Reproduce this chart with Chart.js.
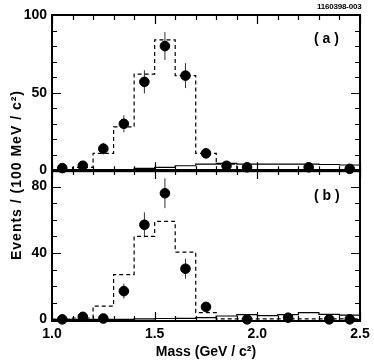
<!DOCTYPE html>
<html>
<head>
<meta charset="utf-8">
<script src="https://cdn.jsdelivr.net/npm/chart.js@4.4.0/dist/chart.umd.min.js"></script>
<style>
body { margin: 0; background: #fff; width: 374px; height: 363px; position: relative; overflow: hidden; font-family: "Liberation Sans", Arial, sans-serif; }
canvas { position: absolute; left: 0; }
#top { top: 0; }
#bot { top: 160px; }
.lbl { position: absolute; font-weight: bold; color: #000; white-space: nowrap; }
#ytitle { left: -84px; top: 167px; width: 200px; text-align: center; font-size: 14px; letter-spacing: 1px; transform: rotate(-90deg); }
</style>
</head>
<body>
<canvas id="top" width="374" height="177"></canvas>
<canvas id="bot" width="374" height="203"></canvas>
<div class="lbl" style="left:317px;top:2px;font-size:8px;letter-spacing:-0.2px">1160398-003</div>
<div class="lbl" style="left:314px;top:30px;font-size:14px">( a )</div>
<div class="lbl" style="left:314px;top:187px;font-size:14px">( b )</div>
<div class="lbl" id="ytitle">Events / (100 MeV / c²)</div>
<script>
// bin edges in GeV/c^2
const binEdges = [1.0, 1.1, 1.2, 1.3, 1.4, 1.5, 1.6, 1.7, 1.8, 1.9, 2.0, 2.1, 2.2, 2.3, 2.4, 2.5];
const xTicks = [1.0, 1.5, 2.0, 2.5];

// panel (a)
const mcA = [0, 2, 11, 28, 62, 84, 61, 11, 4, 0.5, 0.5, 0.5, 0.5, 0.5, 0.5];
const bkgA = [0, 0, 0, 0.5, 1.3, 2, 3, 4, 4.5, 4, 4, 4, 4, 3.8, 3.5];
const massA = [1.05, 1.15, 1.25, 1.35, 1.45, 1.55, 1.65, 1.75, 1.85, 1.95, 2.25, 2.45];
const eventsA = [1.5, 3, 14, 30, 57, 80, 61, 11, 3, 2, 2, 1];
const errA = [1, 1.7, 3.7, 5.5, 7.5, 9, 8, 3.3, 1.7, 1.4, 1.4, 1];
const yTicksA = [0, 50, 100];

// panel (b)
const mcB = [0, 0.8, 8, 27, 50, 59, 40.5, 4, 0.3, 0.3, 0.3, 0.3, 0.3, 0.3, 0.3];
const bkgB = [0, 0, 0, 0, 0.3, 0.5, 0.6, 1, 2, 2.8, 2.2, 2.8, 4, 3, 2.6];
const massB = [1.05, 1.15, 1.25, 1.35, 1.45, 1.55, 1.65, 1.75, 1.95, 2.15, 2.35, 2.45];
const eventsB = [0, 1.5, 0.5, 17, 57, 76, 30.5, 7.5, 0, 1, 0, 0];
const errB = [0.5, 1.5, 1, 4.5, 7.5, 9, 6, 3, 0.5, 1, 0.5, 0.5];
const yTicksB = [0, 40, 80];

const tickFont = { family: "Liberation Sans", size: 14, weight: "bold" };

function histPoints(vals) {
    const pts = vals.map((v, i) => ({ x: binEdges[i], y: v }));
    pts.push({ x: binEdges[binEdges.length - 1], y: vals[vals.length - 1] });
    return pts;
}

// frame with inward ticks on all four sides
const framePlugin = {
    id: "frame",
    afterDatasetsDraw(chart, args, opts) {
        const { ctx, chartArea: a, scales: { x, y } } = chart;
        ctx.save();
        ctx.strokeStyle = "#000";
        ctx.lineWidth = 1.2;
        ctx.beginPath();
        for (let k = 0; k <= 15; k++) {
            const v = 1.0 + k * 0.1;
            const px = Math.round(x.getPixelForValue(v)) + 0.5;
            const len = k % 5 === 0 ? 9 : 5;
            ctx.moveTo(px, a.bottom); ctx.lineTo(px, a.bottom - len);
            ctx.moveTo(px, a.top); ctx.lineTo(px, a.top + len);
        }
        for (let v = 0; v <= y.max; v += 10) {
            const py = Math.round(y.getPixelForValue(v)) + 0.5;
            const len = v % opts.major === 0 ? 9 : 5;
            ctx.moveTo(a.left, py); ctx.lineTo(a.left + len, py);
            ctx.moveTo(a.right, py); ctx.lineTo(a.right - len, py);
        }
        ctx.stroke();
        ctx.lineWidth = 2;
        ctx.strokeRect(a.left, a.top, a.right - a.left, a.bottom - a.top);
        ctx.restore();
    }
};

// vertical error bars for the data points
const errPlugin = {
    id: "errbars",
    beforeDatasetsDraw(chart, args, opts) {
        const { ctx, scales: { x, y } } = chart;
        ctx.save();
        ctx.strokeStyle = "#333";
        ctx.lineWidth = 1;
        ctx.beginPath();
        opts.mass.forEach((m, i) => {
            const px = x.getPixelForValue(m);
            ctx.moveTo(px, y.getPixelForValue(opts.events[i] - opts.err[i]));
            ctx.lineTo(px, y.getPixelForValue(opts.events[i] + opts.err[i]));
        });
        ctx.stroke();
        ctx.restore();
    }
};

function makeChart(id, mc, bkg, mass, events, err, yTicks, yMin, yMax, showX, pad) {
    return new Chart(document.getElementById(id), {
        type: "scatter",
        data: {
            datasets: [
                {
                    type: "line", data: histPoints(bkg), stepped: "before",
                    borderColor: "#000", borderWidth: 1.2, pointRadius: 0, fill: false
                },
                {
                    type: "line", data: histPoints(mc), stepped: "before",
                    borderColor: "#000", borderWidth: 1.2, borderDash: [4, 3], pointRadius: 0, fill: false
                },
                {
                    data: mass.map((m, i) => ({ x: m, y: events[i] })),
                    pointRadius: 4.8, pointBackgroundColor: "#000", pointBorderColor: "#000",
                    clip: false
                }
            ]
        },
        options: {
            responsive: false,
            animation: false,
            layout: { padding: pad },
            plugins: {
                legend: { display: false },
                tooltip: { enabled: false },
                frame: { major: yTicks[1] },
                errbars: { mass: mass, events: events, err: err }
            },
            scales: {
                x: {
                    type: "linear", min: 1.0, max: 2.5, display: showX,
                    afterBuildTicks: s => { s.ticks = xTicks.map(v => ({ value: v })); },
                    afterFit: s => {
                        s.height = showX ? 42 : 0;
                        s.paddingLeft = 0; s.paddingRight = 0;
                    },
                    grid: { display: false, drawTicks: false },
                    border: { display: false },
                    ticks: { color: "#000", font: tickFont, padding: 5, maxRotation: 0, callback: v => v.toFixed(1) },
                    title: {
                        display: true, text: "Mass (GeV / c²)", color: "#000",
                        font: { family: "Liberation Sans", size: 14, weight: "bold" },
                        padding: { top: 0, bottom: 2 }
                    }
                },
                y: {
                    min: yMin, max: yMax,
                    afterBuildTicks: s => { s.ticks = yTicks.map(v => ({ value: v })); },
                    afterFit: s => {
                        s.width = 52;
                        s.paddingTop = 0; s.paddingBottom = 0;
                    },
                    grid: { display: false, drawTicks: false },
                    border: { display: false },
                    ticks: { color: "#000", font: tickFont, padding: 5 }
                }
            }
        },
        plugins: [errPlugin, framePlugin]
    });
}

makeChart("top", mcA, bkgA, massA, eventsA, errA, yTicksA, -0.5, 100, false,
    { left: 0, right: 14, top: 15, bottom: 2 });
makeChart("bot", mcB, bkgB, massB, eventsB, errB, yTicksB, -1, 90, true,
    { left: 0, right: 14, top: 10, bottom: 0 });
</script>
</body>
</html>
